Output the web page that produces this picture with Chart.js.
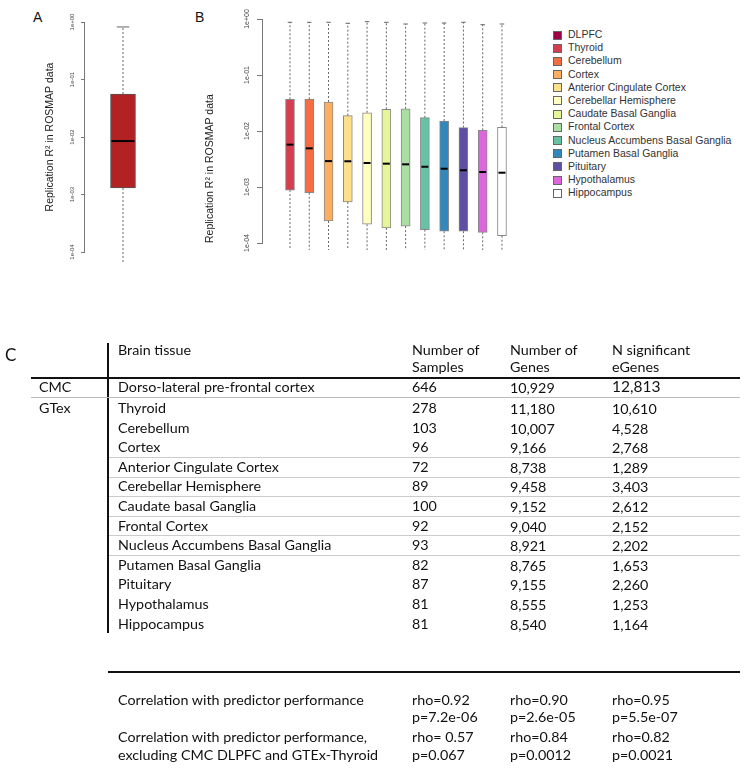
<!DOCTYPE html>
<html>
<head>
<meta charset="utf-8">
<script src="https://cdn.jsdelivr.net/npm/chart.js@4.4.1/dist/chart.umd.min.js"></script>
<style>
body { margin: 0; background: #fff; width: 750px; height: 768px; position: relative; overflow: hidden; font-family: 'Liberation Sans', Arial, sans-serif; }
.abs { position: absolute; }
#wrapA { left: 0; top: 0; width: 190px; height: 270px; }
#wrapB { left: 190px; top: 0; width: 335px; height: 270px; }
.panel { font-size: 14px; color: #111; }
.legend { left: 553px; top: 28px; font-size: 10.5px; color: #333; }
.legend-item { position: relative; height: 13.2px; line-height: 13.2px; padding-left: 15px; white-space: nowrap; }
.legend-color { position: absolute; left: 0; top: 2.5px; width: 7px; height: 7px; border: 1px solid #666; }
#table { left: 0; top: 0; width: 750px; height: 768px; font-family: Lato, 'Open Sans', sans-serif; font-size: 14.3px; color: #111; }
.t { position: absolute; transform: translateY(-50%); line-height: 1; white-space: nowrap; }
.ln { position: absolute; }
</style>
</head>
<body>
<div class="abs panel" style="left:33px;top:9px">A</div>
<div class="abs panel" style="left:195px;top:9px">B</div>
<div id="wrapA" class="abs"><canvas id="chartA"></canvas></div>
<div id="wrapB" class="abs"><canvas id="chartB"></canvas></div>
<div id="legend" class="abs legend"></div>
<div id="table" class="abs"></div>

<script>
// Panel A - CMC DLPFC predictor replication
const aLabels = ['DLPFC'];
const aLow = [6.7e-5];
const aQ1 = [0.0013];
const aMed = [0.0085];
const aQ3 = [0.056];
const aHigh = [0.82];
const aColors = ['#b22222'];

// Panel B - GTEx brain tissues
const bLabels = ['Thyroid', 'Cerebellum', 'Cortex', 'Anterior Cingulate Cortex', 'Cerebellar Hemisphere', 'Caudate Basal Ganglia',
    'Frontal Cortex', 'Nucleus Accumbens Basal Ganglia', 'Putamen Basal Ganglia', 'Pituitary', 'Hypothalamus', 'Hippocampus'];
const bLow = [7.5e-5, 7.5e-5, 7.5e-5, 7.5e-5, 7.5e-5, 7.5e-5, 7.5e-5, 7.5e-5, 7.5e-5, 7.5e-5, 7.5e-5, 7.5e-5];
const bQ1 = [8.8e-4, 7.9e-4, 2.47e-4, 5.4e-4, 2.16e-4, 1.86e-4, 2.0e-4, 1.73e-4, 1.62e-4, 1.62e-4, 1.55e-4, 1.35e-4];
const bMed = [0.0057, 0.0049, 0.0029, 0.00288, 0.00268, 0.00261, 0.00254, 0.0023, 0.00212, 0.00199, 0.00185, 0.0018];
const bQ3 = [0.0368, 0.037, 0.033, 0.0188, 0.0212, 0.0244, 0.025, 0.0173, 0.0151, 0.0115, 0.0103, 0.0116];
const bHigh = [0.873, 0.873, 0.873, 0.838, 0.896, 0.873, 0.814, 0.848, 0.848, 0.873, 0.791, 0.814];
const bColors = ['#d53e4f', '#f46d43', '#fdae61', '#fee08b', '#ffffbf', '#e6f598', '#abdda4', '#66c2a5', '#3288bd', '#5e4fa2', '#dd66dd', '#ffffff'];

// Shared log axis
const tickValues = [1e-4, 1e-3, 1e-2, 1e-1, 1];
const tickLabels = ['1e-04', '1e-03', '1e-02', '1e-01', '1e+00'];

// Legend
const legendLabels = ['DLPFC'].concat(bLabels);
const legendColors = ['#9e0142'].concat(bColors);

// Table C
const tissues = ['Dorso-lateral pre-frontal cortex', 'Thyroid', 'Cerebellum', 'Cortex', 'Anterior Cingulate Cortex', 'Cerebellar Hemisphere',
    'Caudate basal Ganglia', 'Frontal Cortex', 'Nucleus Accumbens Basal Ganglia', 'Putamen Basal Ganglia', 'Pituitary', 'Hypothalamus', 'Hippocampus'];
const sources = ['CMC', 'GTex'];
const nSamples = ['646', '278', '103', '96', '72', '89', '100', '92', '93', '82', '87', '81', '81'];
const nGenes = ['10,929', '11,180', '10,007', '9,166', '8,738', '9,458', '9,152', '9,040', '8,921', '8,765', '9,155', '8,555', '8,540'];
const nEGenes = ['12,813', '10,610', '4,528', '2,768', '1,289', '3,403', '2,612', '2,152', '2,202', '1,653', '2,260', '1,253', '1,164'];
const corrAll = [['rho=0.92', 'p=7.2e-06'], ['rho=0.90', 'p=2.6e-05'], ['rho=0.95', 'p=5.5e-07']];
const corrExcl = [['rho= 0.57', 'p=0.067'], ['rho=0.84', 'p=0.0012'], ['rho=0.82', 'p=0.0021']];

// Whiskers + medians drawn on top of the floating bars
function boxPlugin(low, high, med, cap) {
    return {
        id: 'boxWhiskers',
        afterDatasetsDraw(chart) {
            const ctx = chart.ctx;
            const y = chart.scales.y;
            chart.getDatasetMeta(0).data.forEach((bar, i) => {
                const half = bar.width / 2;
                const top = Math.min(bar.y, bar.base);
                const bottom = Math.max(bar.y, bar.base);
                const yHi = y.getPixelForValue(high[i]);
                const yLo = y.getPixelForValue(low[i]);
                const yMed = y.getPixelForValue(med[i]);
                ctx.save();
                ctx.strokeStyle = '#666';
                ctx.lineWidth = 1;
                ctx.setLineDash([2, 2]);
                ctx.beginPath();
                ctx.moveTo(bar.x, top); ctx.lineTo(bar.x, yHi);
                ctx.moveTo(bar.x, bottom); ctx.lineTo(bar.x, yLo);
                ctx.stroke();
                ctx.setLineDash([]);
                if (cap) {
                    ctx.beginPath();
                    ctx.moveTo(bar.x - half / 2, yHi); ctx.lineTo(bar.x + half / 2, yHi);
                    ctx.stroke();
                }
                ctx.strokeStyle = '#000';
                ctx.lineWidth = 2;
                ctx.beginPath();
                ctx.moveTo(bar.x - half + 1, yMed); ctx.lineTo(bar.x + half - 1, yMed);
                ctx.stroke();
                ctx.restore();
            });
        }
    };
}

function makeBoxChart(id, s) {
    new Chart(document.getElementById(id), {
        type: 'bar',
        data: {
            datasets: [{
                data: s.labels.map((l, i) => ({ x: i + 1, y: [s.q1[i], s.q3[i]] })),
                backgroundColor: s.colors,
                borderColor: s.border,
                borderWidth: 1,
                borderSkipped: false,
                barThickness: s.barWidth
            }]
        },
        options: {
            responsive: true,
            maintainAspectRatio: false,
            animation: false,
            layout: { padding: s.padding },
            plugins: { legend: { display: false }, tooltip: { enabled: false } },
            scales: {
                x: { type: 'linear', display: false, offset: false, min: s.xMin, max: s.xMax },
                y: {
                    type: 'logarithmic',
                    min: 1e-4,
                    max: 1,
                    afterBuildTicks: scale => { scale.ticks = tickValues.map(v => ({ value: v })); },
                    afterFit: scale => { scale.width = s.axisWidth; },
                    ticks: {
                        callback: (v, i) => tickLabels[i],
                        minRotation: 90,
                        maxRotation: 90,
                        crossAlign: 'center',
                        padding: s.tickPad,
                        color: '#444',
                        font: { size: s.tickFont, family: 'Liberation Sans' }
                    },
                    grid: { drawOnChartArea: false, drawTicks: true, tickLength: s.tickLen, color: '#777' },
                    border: { display: true, color: '#777', width: 1 },
                    title: {
                        display: true,
                        text: 'Replication R\u00b2 in ROSMAP data',
                        align: s.titleAlign,
                        color: '#222',
                        padding: { top: 2, bottom: 0 },
                        font: { size: 10.5, family: 'Liberation Sans' }
                    }
                }
            }
        },
        plugins: [boxPlugin(s.low, s.high, s.med, s.cap)]
    });
}

makeBoxChart('chartA', {
    labels: aLabels, low: aLow, q1: aQ1, med: aMed, q3: aQ3, high: aHigh, colors: aColors,
    border: '#555', barWidth: 25, xMin: 0.46, xMax: 1.54,
    padding: { left: 42, top: 22, right: 28, bottom: 18 }, axisWidth: 42,
    tickFont: 6, tickLen: 3, tickPad: 0, titleAlign: 'center', cap: true
});

makeBoxChart('chartB', {
    labels: bLabels, low: bLow, q1: bQ1, med: bMed, q3: bQ3, high: bHigh, colors: bColors,
    border: '#888', barWidth: 9, xMin: -0.453, xMax: 12.936,
    padding: { left: 12, top: 19, right: 5, bottom: 27 }, axisWidth: 60,
    tickFont: 7, tickLen: 5, tickPad: 0, titleAlign: 'start', cap: true
});

// Legend
document.getElementById('legend').innerHTML = legendLabels.map((label, i) =>
    `<div class="legend-item"><div class="legend-color" style="background:${legendColors[i]}"></div>${label}</div>`
).join('');

// Table
const table = document.getElementById('table');
const cols = [118, 412, 510, 612];
let html = '';
function txt(x, y, s, extra) {
    html += `<div class="t" style="left:${x}px;top:${y}px;${extra || ''}">${s}</div>`;
}
function line(x, y, w, h, color) {
    html += `<div class="ln" style="left:${x}px;top:${y}px;width:${w}px;height:${h}px;background:${color}"></div>`;
}

txt(5, 354, 'C', 'font-size:17px');
txt(cols[0], 350, 'Brain tissue');
txt(cols[1], 350, 'Number of'); txt(cols[1], 367, 'Samples');
txt(cols[2], 350, 'Number of'); txt(cols[2], 367, 'Genes');
txt(cols[3], 350, 'N significant'); txt(cols[3], 367, 'eGenes');

line(31, 377, 709, 1.5, '#111');
line(107, 343, 1.5, 290, '#111');
line(31, 397, 709, 1, '#bbb');

tissues.forEach((t, i) => {
    const y = i === 0 ? 387 : 408 + (i - 1) * 19.6;
    if (i < 2) txt(39, y, sources[i]);
    txt(cols[0], y, t);
    txt(cols[1], y, nSamples[i]);
    txt(cols[2], y + 1, nGenes[i]);
    txt(cols[3], y + (i === 0 ? 0 : 1), nEGenes[i], i === 0 ? 'font-size:15.5px' : '');
    if (i >= 3 && i <= 8) line(109, y + 9.8, 631, 1, '#ccc');
});

line(108, 671, 632, 1.5, '#111');

txt(cols[0], 700, 'Correlation with predictor performance');
txt(cols[0], 737, 'Correlation with predictor performance,');
txt(cols[0], 755, 'excluding CMC DLPFC and GTEx-Thyroid');
corrAll.forEach((c, i) => { txt(cols[i + 1], 700, c[0]); txt(cols[i + 1], 717, c[1]); });
corrExcl.forEach((c, i) => { txt(cols[i + 1], 737, c[0]); txt(cols[i + 1], 755, c[1]); });

table.innerHTML = html;
</script>
</body>
</html>
